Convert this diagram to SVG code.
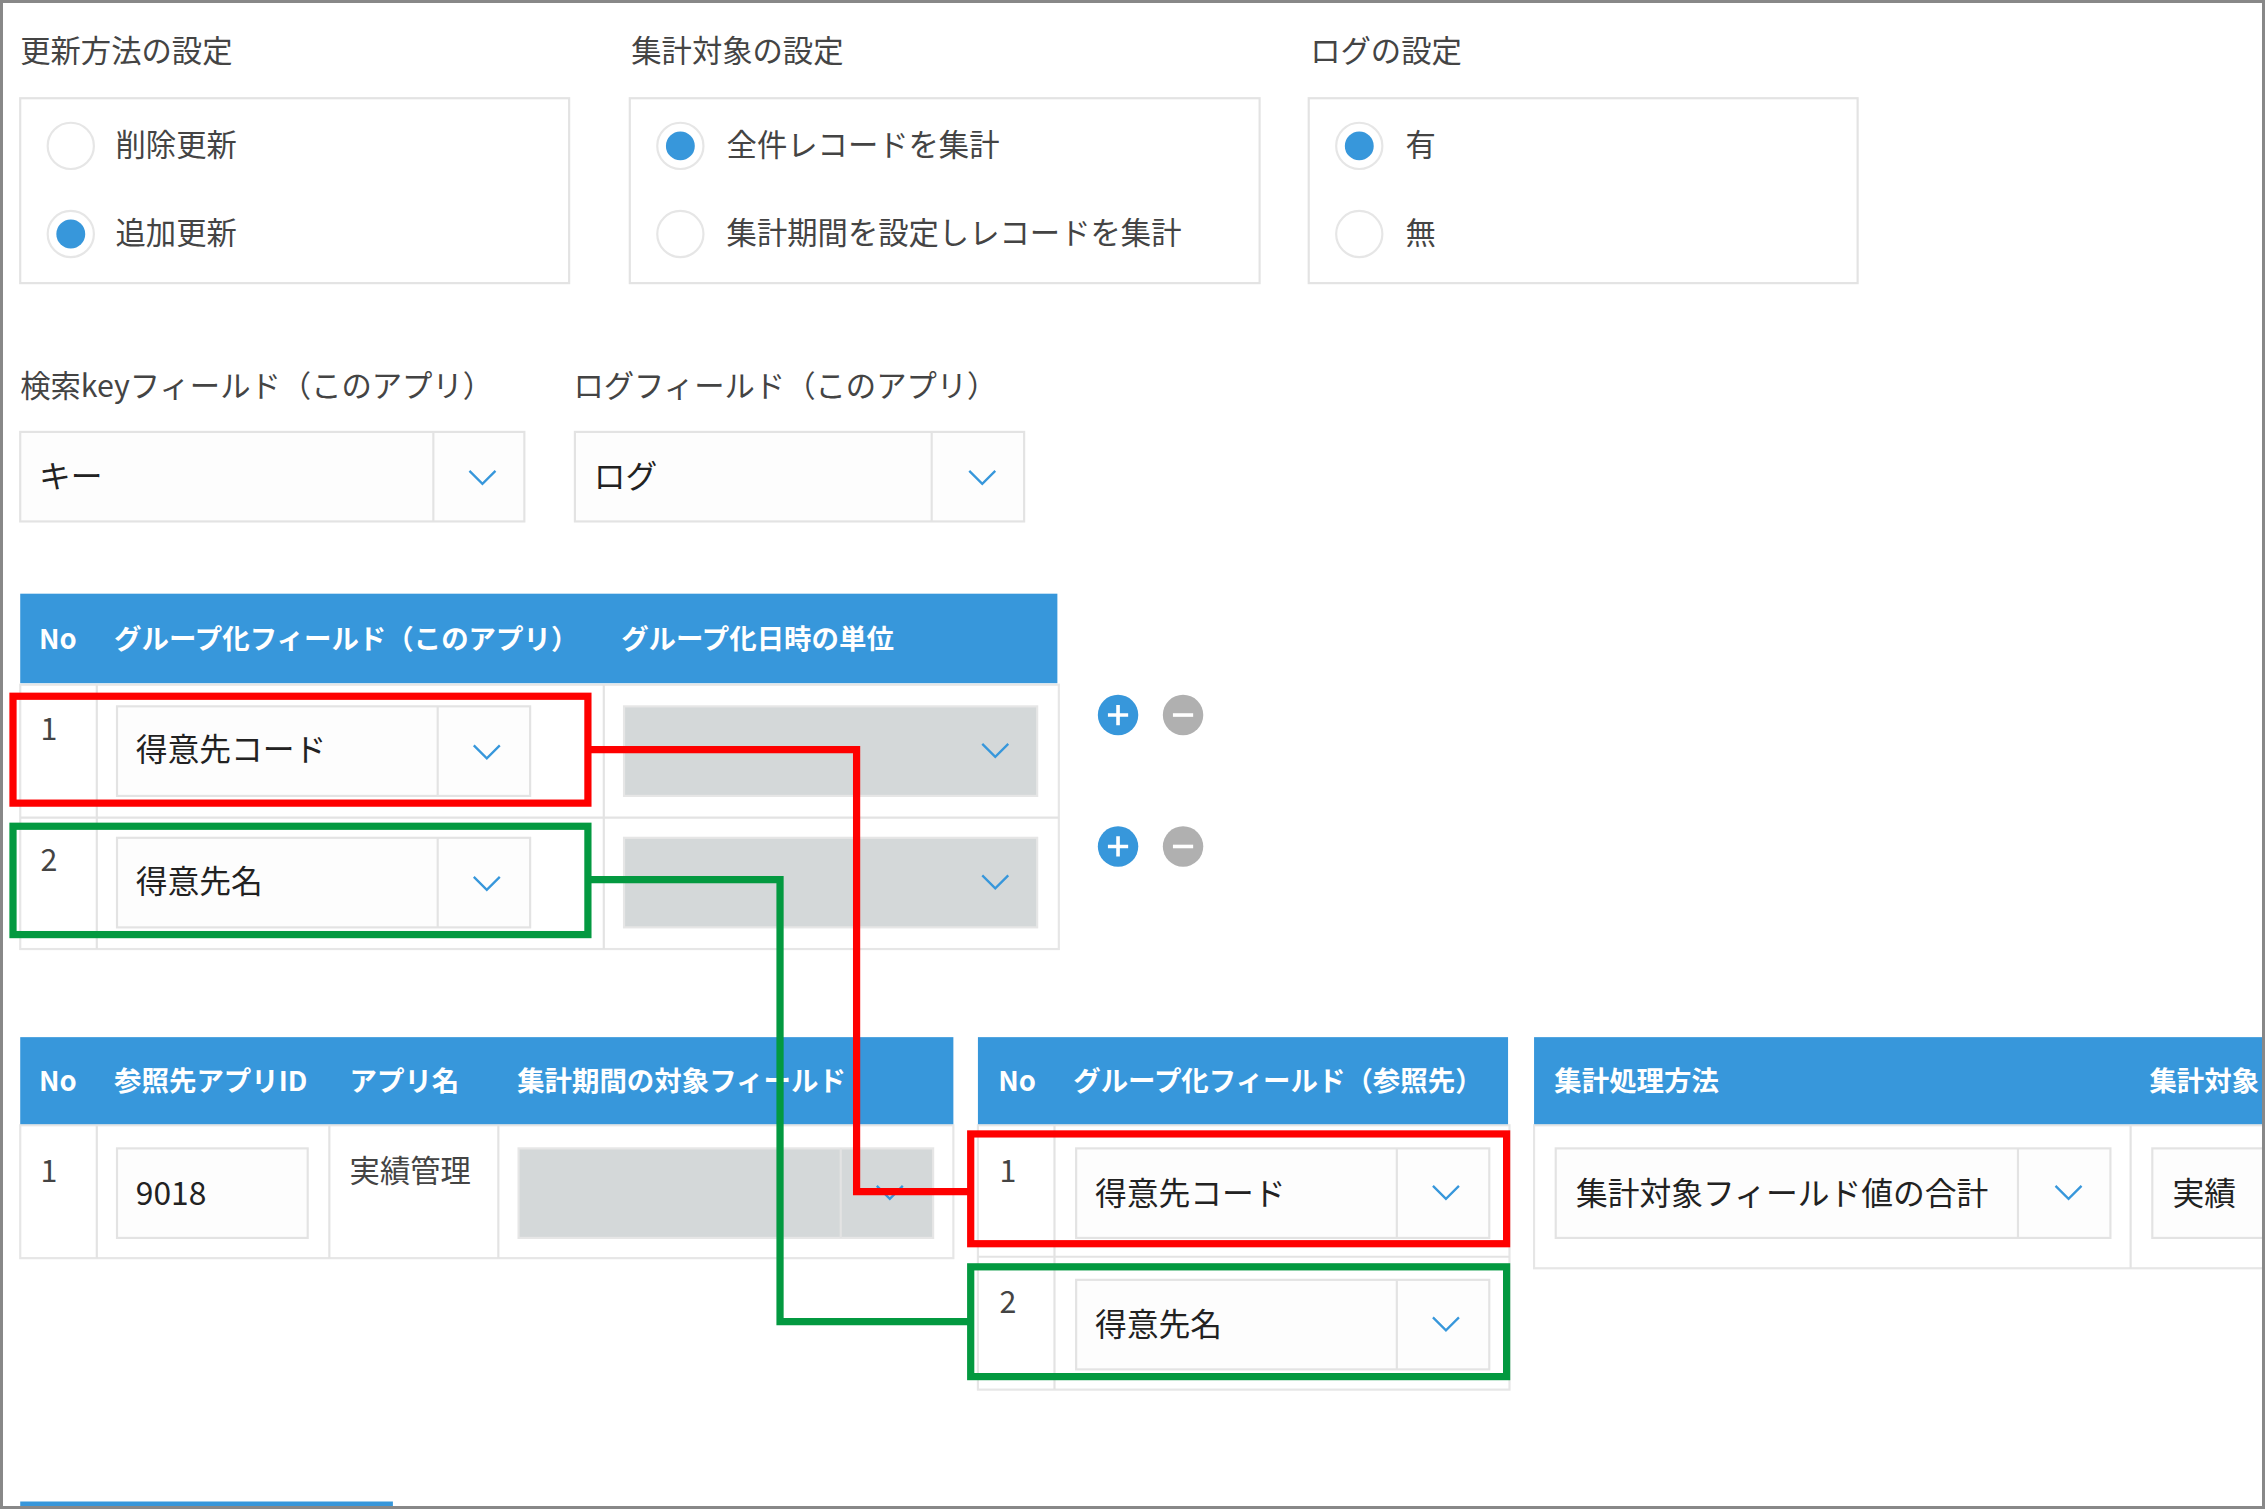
<svg xmlns="http://www.w3.org/2000/svg" width="2265" height="1510" viewBox="0 0 2265 1510">
<style>
text{font-family:"Noto Sans CJK JP","Noto Sans",sans-serif;fill:#333}
.t{font-size:21px;fill:#444}
.b{font-size:22px;fill:#222}
.h{font-size:19px;fill:#fff;font-weight:bold}
.box{fill:#fff;stroke:#e3e3e3;stroke-width:1.5}
.sel{fill:#fdfdfd;stroke:#e3e3e3;stroke-width:1.5}
.gsel{fill:#d4d8d9;stroke:#e6e6e6;stroke-width:1.5}
.div{stroke:#e3e3e3;stroke-width:1.5}
.hd{fill:#3797db}
.chev{fill:none;stroke:#3797db;stroke-width:1.6}
.ro{fill:#fff;stroke:#e6e6e6;stroke-width:1.5}
.rf{fill:#3797db}
.cell{fill:none;stroke:#e6e6e6;stroke-width:1.5}
.red{fill:none;stroke:#fe0000;stroke-width:5}
.grn{fill:none;stroke:#039940;stroke-width:5}
</style>
<defs>
<path id="chev" d="M-9,-5 L0,4 L9,-5" class="chev"/>
<clipPath id="cp"><rect x="0" y="0" width="1566" height="1043"/></clipPath>
</defs>
<rect width="2265" height="1510" fill="#fff"/>
<g transform="scale(1.4445)" clip-path="url(#cp)">
<g id="update-method">
<text x="14" y="43" class="t">更新方法の設定</text>
<rect x="14" y="68" width="380" height="128" class="box"/>
<circle cx="49" cy="101" r="16" class="ro"/>
<text x="80" y="108" class="t">削除更新</text>
<circle cx="49" cy="162" r="16" class="ro"/><circle cx="49" cy="162" r="10" class="rf"/>
<text x="80" y="169" class="t">追加更新</text>
</g>
<g id="target">
<text x="437" y="43" class="t">集計対象の設定</text>
<rect x="436" y="68" width="436" height="128" class="box"/>
<circle cx="471" cy="101" r="16" class="ro"/><circle cx="471" cy="101" r="10" class="rf"/>
<text x="503" y="108" class="t">全件レコードを集計</text>
<circle cx="471" cy="162" r="16" class="ro"/>
<text x="503" y="169" class="t">集計期間を設定しレコードを集計</text>
</g>
<g id="log">
<text x="907" y="43" class="t">ログの設定</text>
<rect x="906" y="68" width="380" height="128" class="box"/>
<circle cx="941" cy="101" r="16" class="ro"/><circle cx="941" cy="101" r="10" class="rf"/>
<text x="973" y="108" class="t">有</text>
<circle cx="941" cy="162" r="16" class="ro"/>
<text x="973" y="169" class="t">無</text>
</g>
<g id="key-field">
<text x="14" y="275" class="t">検索keyフィールド（このアプリ）</text>
<rect x="14" y="299" width="349" height="62" class="sel"/>
<line x1="300" y1="299" x2="300" y2="361" class="div"/>
<use href="#chev" x="334" y="331"/>
<text x="27" y="338" class="b">キー</text>
</g>
<g id="log-field">
<text x="397" y="275" class="t">ログフィールド（このアプリ）</text>
<rect x="398" y="299" width="311" height="62" class="sel"/>
<line x1="645" y1="299" x2="645" y2="361" class="div"/>
<use href="#chev" x="680" y="331"/>
<text x="411" y="338" class="b">ログ</text>
</g>
<g id="group-table">
<rect x="14" y="411" width="718" height="62" class="hd"/>
<text x="27" y="449" class="h">No</text>
<text x="79" y="449" class="h">グループ化フィールド（このアプリ）</text>
<text x="430" y="449" class="h">グループ化日時の単位</text>
<rect x="14" y="474" width="719" height="183" class="cell"/>
<line x1="14" y1="566" x2="733" y2="566" class="div"/>
<line x1="67" y1="474" x2="67" y2="657" class="div"/>
<line x1="418" y1="474" x2="418" y2="657" class="div"/>
<text x="28" y="512" class="t">1</text>
<rect x="81" y="489" width="286" height="62" class="sel"/>
<line x1="303" y1="489" x2="303" y2="551" class="div"/>
<use href="#chev" x="337" y="521"/>
<text x="94" y="527" class="b">得意先コード</text>
<rect x="432" y="489" width="286" height="62" class="gsel"/>
<use href="#chev" x="689" y="520"/>
<text x="28" y="603" class="t">2</text>
<rect x="81" y="580" width="286" height="62" class="sel"/>
<line x1="303" y1="580" x2="303" y2="642" class="div"/>
<use href="#chev" x="337" y="612"/>
<text x="94" y="618" class="b">得意先名</text>
<rect x="432" y="580" width="286" height="62" class="gsel"/>
<use href="#chev" x="689" y="611"/>
</g>
<g id="buttons">
<circle cx="774" cy="495" r="14" fill="#3797db"/><path d="M767,495h14M774,488v14" stroke="#fff" stroke-width="2.5"/>
<circle cx="819" cy="495" r="14" fill="#b0b0b0"/><path d="M812,495h14" stroke="#fff" stroke-width="2.5"/>
<circle cx="774" cy="586" r="14" fill="#3797db"/><path d="M767,586h14M774,579v14" stroke="#fff" stroke-width="2.5"/>
<circle cx="819" cy="586" r="14" fill="#b0b0b0"/><path d="M812,586h14" stroke="#fff" stroke-width="2.5"/>
</g>
<g id="ref-table">
<rect x="14" y="718" width="646" height="61" class="hd"/>
<text x="27" y="755" class="h">No</text>
<text x="79" y="755" class="h">参照先アプリID</text>
<text x="242" y="755" class="h">アプリ名</text>
<text x="358" y="755" class="h">集計期間の対象フィールド</text>
<rect x="14" y="779" width="646" height="92" class="cell"/>
<line x1="67" y1="779" x2="67" y2="871" class="div"/>
<line x1="228" y1="779" x2="228" y2="871" class="div"/>
<line x1="345" y1="779" x2="345" y2="871" class="div"/>
<text x="28" y="818" class="t">1</text>
<rect x="81" y="795" width="132" height="62" class="sel"/>
<text x="94" y="834" class="b">9018</text>
<text x="242" y="818" class="t">実績管理</text>
<rect x="359" y="795" width="287" height="62" class="gsel"/>
<line x1="582" y1="795" x2="582" y2="857" class="div"/>
<use href="#chev" x="616" y="826"/>
</g>
<g id="ref-group-table">
<rect x="677" y="718" width="367" height="61" class="hd"/>
<text x="691" y="755" class="h">No</text>
<text x="743" y="755" class="h">グループ化フィールド（参照先）</text>
<rect x="677" y="779" width="368" height="183" class="cell"/>
<line x1="677" y1="870" x2="1045" y2="870" class="div"/>
<line x1="730" y1="779" x2="730" y2="962" class="div"/>
<text x="692" y="818" class="t">1</text>
<rect x="745" y="795" width="286" height="62" class="sel"/>
<line x1="967" y1="795" x2="967" y2="857" class="div"/>
<use href="#chev" x="1001" y="826"/>
<text x="758" y="834" class="b">得意先コード</text>
<text x="692" y="909" class="t">2</text>
<rect x="745" y="886" width="286" height="62" class="sel"/>
<line x1="967" y1="886" x2="967" y2="948" class="div"/>
<use href="#chev" x="1001" y="917"/>
<text x="758" y="925" class="b">得意先名</text>
</g>
<g id="agg-table">
<rect x="1062" y="718" width="506" height="61" class="hd"/>
<text x="1076" y="755" class="h">集計処理方法</text>
<text x="1488" y="755" class="h">集計対象</text>
<rect x="1062" y="779" width="510" height="99" class="cell"/>
<line x1="1475" y1="779" x2="1475" y2="878" class="div"/>
<rect x="1077" y="795" width="384" height="62" class="sel"/>
<line x1="1397" y1="795" x2="1397" y2="857" class="div"/>
<use href="#chev" x="1432" y="826"/>
<text x="1091" y="834" class="b">集計対象フィールド値の合計</text>
<rect x="1490" y="795" width="90" height="62" class="sel"/>
<text x="1504" y="834" class="b">実績</text>
</g>
<g id="highlights">
<rect x="9" y="482" width="398" height="74" class="red"/>
<rect x="9" y="572" width="398" height="75" class="grn"/>
<rect x="672" y="785" width="371" height="76" class="red"/>
<rect x="672" y="877" width="371" height="76" class="grn"/>
</g>
<g id="connectors">
<polyline points="407,519 593,519 593,825 672,825" class="red"/>
<polyline points="407,609 540,609 540,915 672,915" class="grn"/>
</g>
<line x1="14" y1="1041" x2="272" y2="1041" stroke="#3797db" stroke-width="3"/>
</g>
<rect x="1.5" y="1.5" width="2262" height="1506" fill="none" stroke="#888" stroke-width="3"/>
</svg>
